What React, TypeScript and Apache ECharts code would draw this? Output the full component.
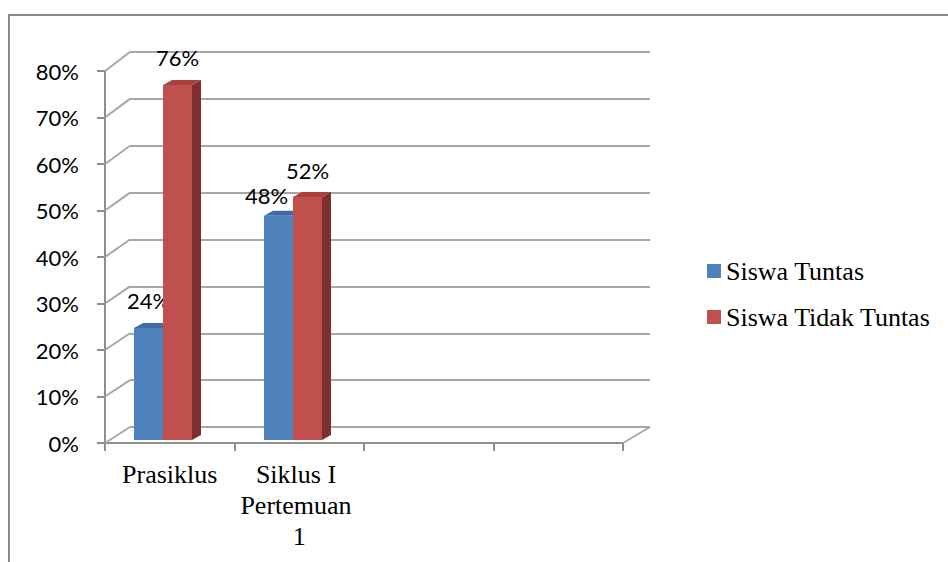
import React, { useEffect, useRef } from "react";
import * as echarts from "echarts";

// Categories along the floor of the chart (the last two slots are empty)
const categories = ["Prasiklus", "Siklus I Pertemuan 1", "", ""];
// Percentages per category
const siswaTuntas = [24, 48];
const siswaTidakTuntas = [76, 52];
const seriesNames = ["Siswa Tuntas", "Siswa Tidak Tuntas"];
// Value axis
const yMin = 0;
const yMax = 80;
const yStep = 10;
const yTicks = [0, 10, 20, 30, 40, 50, 60, 70, 80];

// Layout of the pseudo-3D box
const BACK = { left: 130, top: 52, width: 520, height: 375 };
const FRONT = { left: 105, top: 71, width: 518, height: 372 };
const BARS = { left: 98, top: 66.3, width: 520, height: 373.7 };
const DEPTH = { dx: 9, dy: 5 };
const BAR_W = 29;

const FACES = [
  { front: "#4F81BD", top: "#3E6CA3", side: "#2E5482" },
  { front: "#C0504D", top: "#A9403D", side: "#7E302E" },
];

const WALL = "#a7a7a7";
const AXIS = "#8e8e8e";
const SERIF = "'Liberation Serif', 'Times New Roman', serif";
const SANS = "Lato, 'Open Sans', sans-serif";

function barRenderer(seriesIdx: number, values: number[], others: number[]) {
  const faces = FACES[seriesIdx];
  return (params: any, api: any) => {
    const cat = api.value(0);
    const val = api.value(1);
    const top = api.coord([cat, val]);
    const base = api.coord([cat, 0]);
    const cx = top[0];
    const yTop = top[1];
    const yBase = base[1];
    const x0 = seriesIdx === 0 ? cx - BAR_W : cx;
    const x1 = x0 + BAR_W;
    const { dx, dy } = DEPTH;

    // data label above the bar; nudge the left bar's label aside when the
    // neighbouring bar is about as tall, so the two labels don't collide
    let lx = x0 + BAR_W / 2;
    let ly = yTop - 27;
    const other = others[params.dataIndex];
    if (seriesIdx === 0 && other !== undefined && other >= val && other - val < 8) {
      lx -= 12;
      ly += 7;
    }

    return {
      type: "group",
      children: [
        {
          type: "polygon",
          shape: { points: [[x1, yTop], [x1 + dx, yTop - dy], [x1 + dx, yBase - dy], [x1, yBase]] },
          style: { fill: faces.side },
        },
        {
          type: "rect",
          shape: { x: x0, y: yTop, width: BAR_W, height: yBase - yTop },
          style: { fill: faces.front },
        },
        {
          type: "polygon",
          shape: { points: [[x0, yTop], [x1, yTop], [x1 + dx, yTop - dy], [x0 + dx, yTop - dy]] },
          style: { fill: faces.top },
        },
        {
          type: "text",
          style: {
            text: `${values[params.dataIndex]}%`,
            x: lx,
            y: ly,
            fill: "#000",
            font: `22px ${SANS}`,
            align: "center",
            verticalAlign: "middle",
            textAlign: "center",
            textVerticalAlign: "middle",
          },
        },
      ],
    };
  };
}

// Diagonal side-wall / floor edges joining the front axis to the back wall
function wallRenderer(params: any, api: any) {
  const v = api.value(1);
  const cs = params.coordSys;
  const yF = api.coord([0, v])[1];
  const yB = BACK.top + BACK.height * (1 - (v - yMin) / (yMax - yMin));
  const children: any[] = [
    {
      type: "line",
      shape: { x1: cs.x, y1: yF, x2: BACK.left, y2: yB },
      style: { stroke: WALL, lineWidth: 2 },
    },
  ];
  if (v === yMin) {
    children.push({
      type: "line",
      shape: { x1: cs.x + cs.width, y1: yF, x2: BACK.left + BACK.width, y2: yB },
      style: { stroke: WALL, lineWidth: 2 },
    });
  }
  return { type: "group", children };
}

export default function App() {
  const ref = useRef<HTMLDivElement>(null);

  useEffect(() => {
    if (!ref.current) return;
    const chart = echarts.init(ref.current, null, { renderer: "svg" });

    const valueAxisBase = { type: "value", min: yMin, max: yMax, interval: yStep };

    chart.setOption({
      animation: false,
      backgroundColor: "#ffffff",
      graphic: [
        {
          type: "rect",
          silent: true,
          z: -10,
          shape: { x: 9, y: 15, width: 1200, height: 800 },
          style: { fill: "none", stroke: "#888888", lineWidth: 2 },
        },
      ],
      legend: {
        orient: "vertical",
        left: 702,
        top: 250,
        itemWidth: 14,
        itemHeight: 14,
        itemGap: 14,
        icon: "rect",
        data: seriesNames,
        textStyle: { fontFamily: SERIF, fontSize: 26, color: "#000", lineHeight: 32 },
      },
      grid: [
        { ...BACK, containLabel: false },
        { ...FRONT, containLabel: false },
        { ...BARS, containLabel: false },
      ],
      xAxis: [
        { gridIndex: 0, type: "category", data: categories, show: false },
        {
          gridIndex: 1,
          type: "category",
          data: categories,
          boundaryGap: true,
          axisLine: { show: true, lineStyle: { color: AXIS, width: 2 } },
          axisTick: { show: true, length: 8, alignWithLabel: false, lineStyle: { color: AXIS, width: 2 } },
          axisLabel: {
            interval: 0,
            margin: 16,
            color: "#000",
            fontFamily: SERIF,
            fontSize: 26,
            lineHeight: 31,
            width: 125,
            overflow: "break",
          },
          splitLine: { show: false },
        },
        { gridIndex: 2, type: "category", data: categories, show: false },
      ],
      yAxis: [
        {
          ...valueAxisBase,
          gridIndex: 0,
          axisLine: { show: false },
          axisTick: { show: false },
          axisLabel: { show: false },
          splitLine: { show: true, lineStyle: { color: WALL, width: 2 } },
        },
        {
          ...valueAxisBase,
          gridIndex: 1,
          axisLine: { show: true, lineStyle: { color: AXIS, width: 2 } },
          axisTick: { show: true, length: 8, lineStyle: { color: AXIS, width: 2 } },
          axisLabel: {
            formatter: "{value}%",
            margin: 26,
            color: "#000",
            fontFamily: SANS,
            fontSize: 22,
          },
          splitLine: { show: false },
        },
        { ...valueAxisBase, gridIndex: 2, show: false },
      ],
      series: [
        {
          type: "custom",
          xAxisIndex: 1,
          yAxisIndex: 1,
          silent: true,
          z: 1,
          renderItem: wallRenderer,
          data: yTicks.map((v) => [0, v]),
        },
        {
          type: "custom",
          name: seriesNames[0],
          xAxisIndex: 2,
          yAxisIndex: 2,
          z: 3,
          itemStyle: { color: FACES[0].front },
          renderItem: barRenderer(0, siswaTuntas, siswaTidakTuntas),
          data: siswaTuntas.map((v, i) => [i, v]),
        },
        {
          type: "custom",
          name: seriesNames[1],
          xAxisIndex: 2,
          yAxisIndex: 2,
          z: 4,
          itemStyle: { color: FACES[1].front },
          renderItem: barRenderer(1, siswaTidakTuntas, siswaTuntas),
          data: siswaTidakTuntas.map((v, i) => [i, v]),
        },
      ],
    });

    return () => chart.dispose();
  }, []);

  return (
    <div
      ref={ref}
      style={{ position: "fixed", left: 0, top: 0, width: 948, height: 562, background: "#fff" }}
    />
  );
}
